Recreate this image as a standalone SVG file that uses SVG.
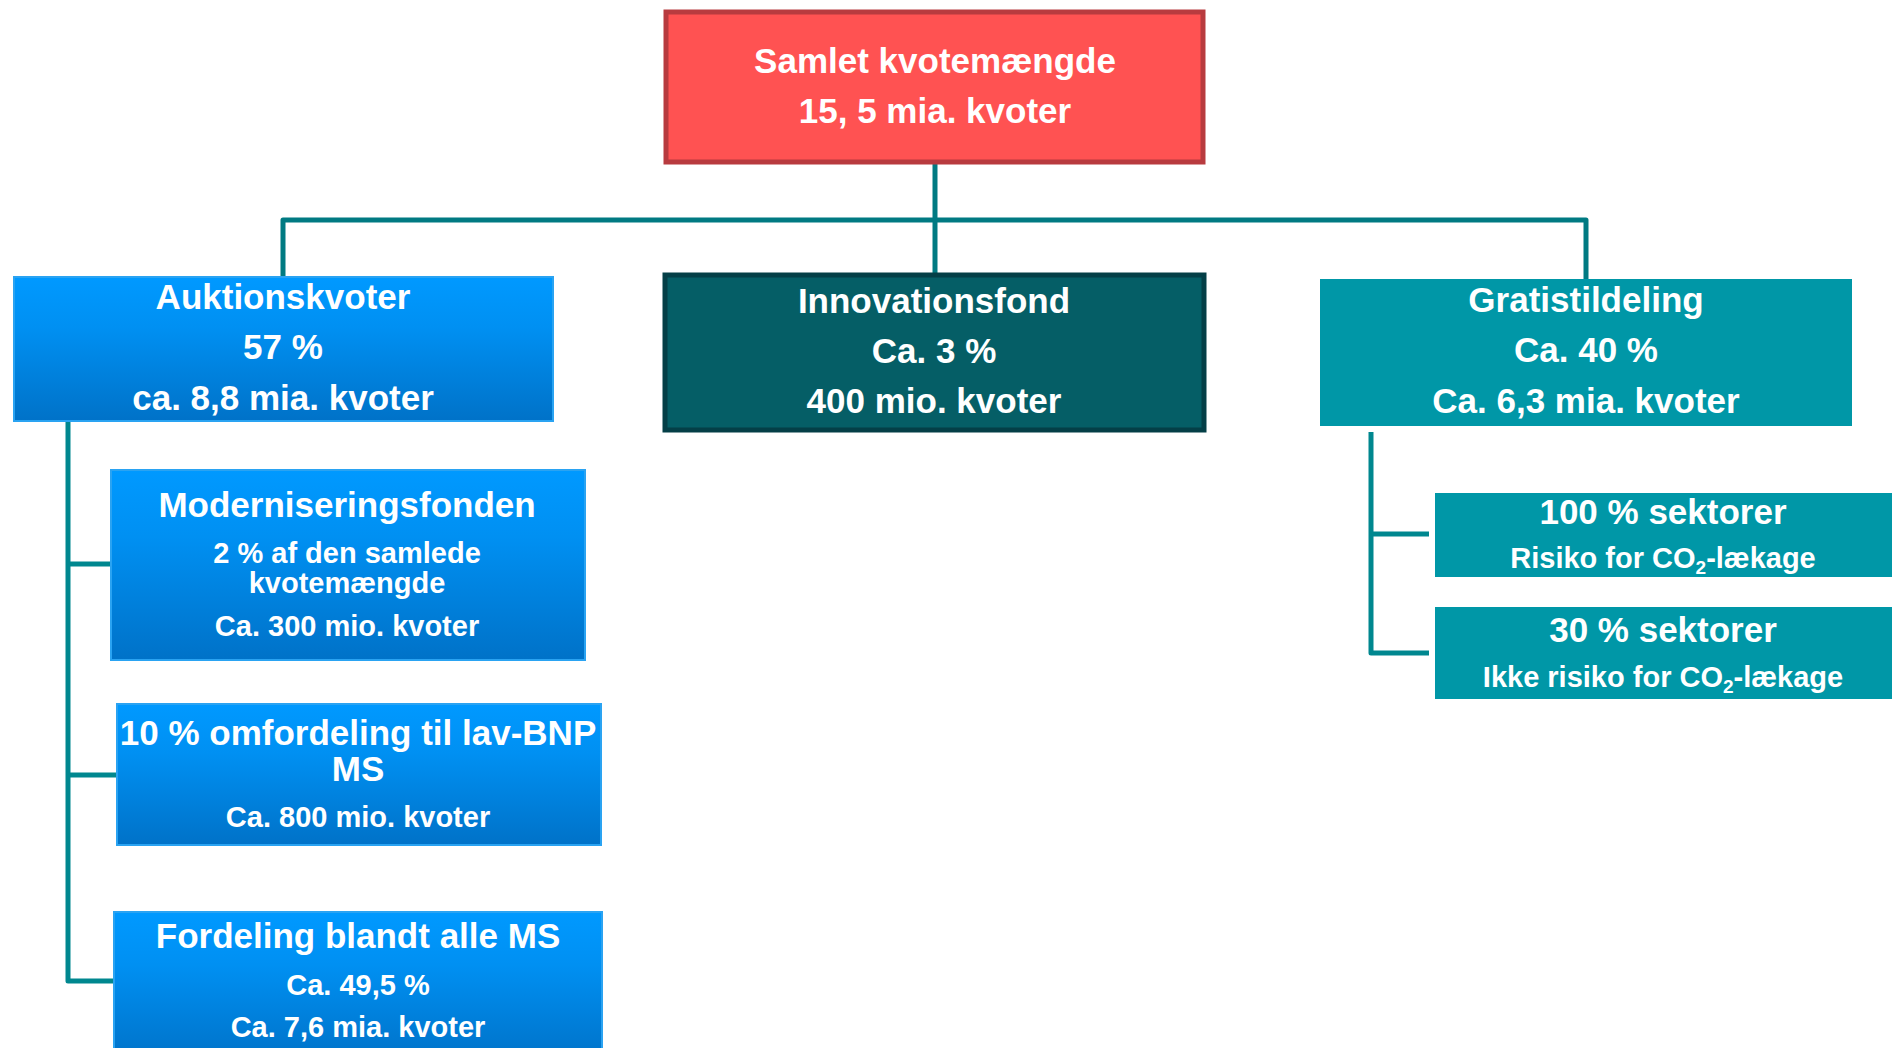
<svg xmlns="http://www.w3.org/2000/svg" width="1892" height="1048" viewBox="0 0 1892 1048">
<defs>
<linearGradient id="blueGrad" x1="0" y1="0" x2="0" y2="1">
<stop offset="0" stop-color="#0099FF"/>
<stop offset="0.35" stop-color="#0090F2"/>
<stop offset="1" stop-color="#0072C8"/>
</linearGradient>
</defs>
<style>
text { font-family: "Liberation Sans", Arial, sans-serif; font-weight: bold; fill: #FFFFFF; text-anchor: middle; }
.big { font-size: 35px; }
.small { font-size: 29px; }
.sub { font-size: 19px; }
.blue { fill: url(#blueGrad); stroke: #2AA3F2; stroke-width: 2; }
.teal { fill: #0097A7; }
.conn { fill: none; stroke: #007A82; stroke-width: 5; stroke-linejoin: round; }
.conn2 { fill: none; stroke: #00878F; stroke-width: 5; stroke-linejoin: round; }
</style>
<rect width="1892" height="1048" fill="#FFFFFF"/>
<g id="connectors">
<path class="conn" d="M935 164 V273"/>
<path class="conn" d="M283 276 V220 H1586 V279"/>
<path class="conn2" d="M68 422 V981 H113"/>
<path class="conn2" d="M68 564 H110"/>
<path class="conn2" d="M68 775 H116"/>
<path class="conn2" d="M1371 432 V653 H1429"/>
<path class="conn2" d="M1371 534 H1429"/>
</g>
<g id="samlet">
<rect x="666" y="12" width="537" height="150" fill="#FF5252" stroke="#B83B3F" stroke-width="5"/>
<text class="big" x="935" y="73">Samlet kvotemængde</text>
<text class="big" x="935" y="123">15, 5 mia. kvoter</text>
</g>
<g id="auktion">
<rect class="blue" x="14" y="277" width="539" height="144"/>
<text class="big" x="283" y="309">Auktionskvoter</text>
<text class="big" x="283" y="359">57 %</text>
<text class="big" x="283" y="410">ca. 8,8 mia. kvoter</text>
</g>
<g id="innovation">
<rect x="665" y="275" width="539" height="155" fill="#055E66" stroke="#043F47" stroke-width="5"/>
<text class="big" x="934" y="313">Innovationsfond</text>
<text class="big" x="934" y="363">Ca. 3 %</text>
<text class="big" x="934" y="413">400 mio. kvoter</text>
</g>
<g id="gratis">
<rect class="teal" x="1320" y="279" width="532" height="147"/>
<text class="big" x="1586" y="312">Gratistildeling</text>
<text class="big" x="1586" y="362">Ca. 40 %</text>
<text class="big" x="1586" y="413">Ca. 6,3 mia. kvoter</text>
</g>
<g id="modernisering">
<rect class="blue" x="111" y="470" width="474" height="190"/>
<text class="big" x="347" y="517">Moderniseringsfonden</text>
<text class="small" x="347" y="563">2 % af den samlede</text>
<text class="small" x="347" y="593">kvotemængde</text>
<text class="small" x="347" y="636">Ca. 300 mio. kvoter</text>
</g>
<g id="omfordeling">
<rect class="blue" x="117" y="704" width="484" height="141"/>
<text class="big" x="358" y="745">10 % omfordeling til lav-BNP</text>
<text class="big" x="358" y="781">MS</text>
<text class="small" x="358" y="827">Ca. 800 mio. kvoter</text>
</g>
<g id="fordeling">
<rect class="blue" x="114" y="912" width="488" height="150"/>
<text class="big" x="358" y="948">Fordeling blandt alle MS</text>
<text class="small" x="358" y="995">Ca. 49,5 %</text>
<text class="small" x="358" y="1037">Ca. 7,6 mia. kvoter</text>
</g>
<g id="sektorer100">
<rect class="teal" x="1435" y="493" width="457" height="84"/>
<text class="big" x="1663" y="524">100 % sektorer</text>
<text class="small" x="1663" y="568">Risiko for CO<tspan class="sub" dy="6">2</tspan><tspan dy="-6">-lækage</tspan></text>
</g>
<g id="sektorer30">
<rect class="teal" x="1435" y="607" width="457" height="92"/>
<text class="big" x="1663" y="642">30 % sektorer</text>
<text class="small" x="1663" y="687">Ikke risiko for CO<tspan class="sub" dy="6">2</tspan><tspan dy="-6">-lækage</tspan></text>
</g>
</svg>
